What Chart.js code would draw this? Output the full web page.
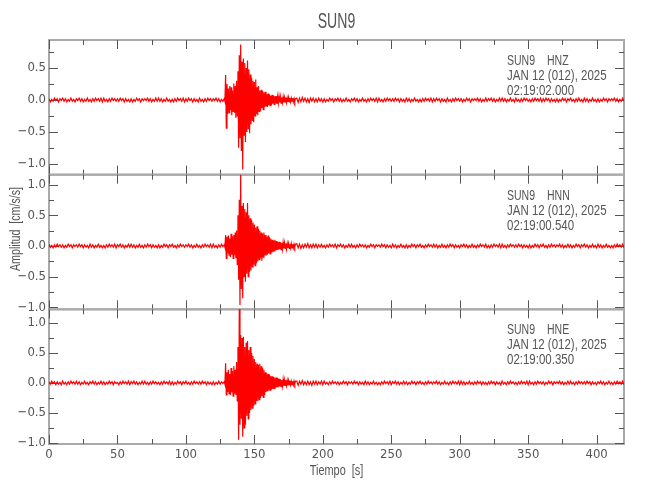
<!DOCTYPE html>
<html>
<head>
<meta charset="utf-8">
<title>SUN9</title>
<script src="https://cdn.jsdelivr.net/npm/chart.js@4.4.1/dist/chart.umd.min.js"></script>
<style>
  html, body { margin: 0; padding: 0; background: #ffffff; }
  #wrap { width: 650px; height: 500px; }
</style>
</head>
<body>
<div id="wrap"><canvas id="myChart" width="650" height="500"></canvas></div>
<script>
// ---- datos ----
const estacion = 'SUN9';
const componentes = ['HNZ', 'HNN', 'HNE'];
const fecha = 'JAN 12 (012), 2025';
const horas = ['02:19:02.000', '02:19:00.540', '02:19:00.350'];
const rangosY = [[-1.17, 0.94], [-1.03, 1.16], [-1.02, 1.23]];
const rangoX = [0, 420];

// tiempo [s]: 1 s antes y despues del evento, 0.5 s durante el evento
const tiempo = [
  0, 1, 2, 3, 4, 5, 6, 7, 8, 9, 10, 11, 12, 13, 14, 15, 16, 17, 18, 19,
  20, 21, 22, 23, 24, 25, 26, 27, 28, 29, 30, 31, 32, 33, 34, 35, 36, 37, 38, 39,
  40, 41, 42, 43, 44, 45, 46, 47, 48, 49, 50, 51, 52, 53, 54, 55, 56, 57, 58, 59,
  60, 61, 62, 63, 64, 65, 66, 67, 68, 69, 70, 71, 72, 73, 74, 75, 76, 77, 78, 79,
  80, 81, 82, 83, 84, 85, 86, 87, 88, 89, 90, 91, 92, 93, 94, 95, 96, 97, 98, 99,
  100, 101, 102, 103, 104, 105, 106, 107, 108, 109, 110, 111, 112, 113, 114, 115, 116, 117, 118, 119,
  120, 121, 122, 123, 124, 125, 126, 127,
  128, 128.5, 129, 129.5, 130, 130.5, 131, 131.5, 132, 132.5,
  133, 133.5, 134, 134.5, 135, 135.5, 136, 136.5, 137, 137.5,
  138, 138.5, 139, 139.5, 140, 140.5, 141, 141.5, 142, 142.5,
  143, 143.5, 144, 144.5, 145, 145.5, 146, 146.5, 147, 147.5,
  148, 148.5, 149, 149.5, 150, 150.5, 151, 151.5, 152, 152.5,
  153, 153.5, 154, 154.5, 155, 155.5, 156, 156.5, 157, 157.5,
  158, 158.5, 159, 159.5, 160, 160.5, 161, 161.5, 162, 162.5,
  163, 163.5, 164, 164.5, 165, 165.5, 166, 166.5, 167, 167.5,
  168, 168.5, 169, 169.5, 170, 170.5, 171, 171.5, 172, 172.5,
  173, 173.5, 174, 174.5, 175, 175.5, 176, 176.5, 177, 177.5,
  178, 178.5, 179, 179.5, 180,
  181, 182, 183, 184, 185, 186, 187, 188, 189, 190, 191, 192, 193, 194, 195, 196, 197, 198, 199, 200,
  201, 202, 203, 204, 205, 206, 207, 208, 209, 210, 211, 212, 213, 214, 215, 216, 217, 218, 219, 220,
  221, 222, 223, 224, 225, 226, 227, 228, 229, 230, 231, 232, 233, 234, 235, 236, 237, 238, 239, 240,
  241, 242, 243, 244, 245, 246, 247, 248, 249, 250, 251, 252, 253, 254, 255, 256, 257, 258, 259, 260,
  261, 262, 263, 264, 265, 266, 267, 268, 269, 270, 271, 272, 273, 274, 275, 276, 277, 278, 279, 280,
  281, 282, 283, 284, 285, 286, 287, 288, 289, 290, 291, 292, 293, 294, 295, 296, 297, 298, 299, 300,
  301, 302, 303, 304, 305, 306, 307, 308, 309, 310, 311, 312, 313, 314, 315, 316, 317, 318, 319, 320,
  321, 322, 323, 324, 325, 326, 327, 328, 329, 330, 331, 332, 333, 334, 335, 336, 337, 338, 339, 340,
  341, 342, 343, 344, 345, 346, 347, 348, 349, 350, 351, 352, 353, 354, 355, 356, 357, 358, 359, 360,
  361, 362, 363, 364, 365, 366, 367, 368, 369, 370, 371, 372, 373, 374, 375, 376, 377, 378, 379, 380,
  381, 382, 383, 384, 385, 386, 387, 388, 389, 390, 391, 392, 393, 394, 395, 396, 397, 398, 399, 400,
  401, 402, 403, 404, 405, 406, 407, 408, 409, 410, 411, 412, 413, 414, 415, 416, 417, 418, 419, 420
];

// amplitud [cm/s/s], componente vertical
const hnz = [
  0.02, -0.03, 0.01, -0.02, 0.03, -0.01, 0.02, -0.03, 0.02, -0.01, 0.03, -0.02, 0.02, -0.03, 0.01, -0.02, 0.03, -0.02, 0.01, -0.03,
  0.02, -0.01, 0.03, -0.02, 0.02, -0.03, 0.01, -0.02, 0.03, -0.02, 0.01, -0.03, 0.02, -0.02, 0.03, -0.01, 0.02, -0.02, 0.03, -0.03,
  0.03, -0.02, 0.01, -0.03, 0.02, -0.02, 0.03, -0.01, 0.02, -0.02, 0.02, -0.02, 0.03, -0.01, 0.02, -0.03, 0.02, -0.02, 0.01, -0.03,
  0.02, -0.03, 0.01, -0.02, 0.03, -0.01, 0.02, -0.03, 0.02, -0.01, 0.02, -0.01, 0.03, -0.02, 0.02, -0.03, 0.01, -0.02, 0.03, -0.02,
  0.03, -0.02, 0.02, -0.03, 0.01, -0.02, 0.03, -0.02, 0.01, -0.03, 0.01, -0.03, 0.02, -0.02, 0.03, -0.01, 0.02, -0.02, 0.03, -0.03,
  0.02, -0.02, 0.03, -0.01, 0.02, -0.03, 0.02, -0.02, 0.01, -0.03, 0.03, -0.02, 0.01, -0.03, 0.02, -0.02, 0.03, -0.01, 0.02, -0.02,
  0.02, -0.01, 0.03, -0.02, 0.02, -0.03, 0.01, -0.02,
  0.02, -0.02, 0.39, -0.44, 0.25, -0.22, 0.18, -0.2, 0.22, -0.16,
  0.2, -0.24, 0.15, -0.18, 0.26, -0.2, 0.22, -0.28, 0.3, -0.25,
  0.45, -0.75, 0.7, -0.6, 0.87, -0.8, 0.6, -1.09, 0.65, -0.55,
  0.58, -0.66, 0.5, -0.5, 0.62, -0.45, 0.48, -0.52, 0.4, -0.38,
  0.35, -0.32, 0.3, -0.35, 0.28, -0.25, 0.32, -0.22, 0.2, -0.24,
  0.22, -0.18, 0.15, -0.17, 0.16, -0.13, 0.14, -0.15, 0.12, -0.11,
  0.13, -0.1, 0.09, -0.11, 0.1, -0.08, 0.09, -0.09, 0.07, -0.08,
  0.08, -0.06, 0.07, -0.07, 0.06, -0.05, 0.06, -0.06, 0.05, -0.05,
  0.06, -0.04, 0.05, -0.05, 0.04, -0.04, 0.05, -0.04, 0.04, -0.03,
  0.04, -0.04, 0.03, -0.03, 0.04, -0.03, 0.03, -0.03, 0.03, -0.02,
  0.03, -0.03, 0.02, -0.03, 0.02,
  0.03, -0.04, 0.03, -0.03, 0.04, -0.02, 0.03, -0.03, 0.02, -0.04, 0.03, -0.02, 0.03, -0.03, 0.02, -0.03, 0.03, -0.02, 0.02, -0.03,
  0.02, -0.03, 0.01, -0.02, 0.03, -0.01, 0.02, -0.03, 0.02, -0.01, 0.03, -0.02, 0.02, -0.03, 0.01, -0.02, 0.03, -0.02, 0.01, -0.03,
  0.02, -0.01, 0.03, -0.02, 0.02, -0.03, 0.01, -0.02, 0.03, -0.02, 0.01, -0.03, 0.02, -0.02, 0.03, -0.01, 0.02, -0.02, 0.03, -0.03,
  0.03, -0.02, 0.01, -0.03, 0.02, -0.02, 0.03, -0.01, 0.02, -0.02, 0.02, -0.02, 0.03, -0.01, 0.02, -0.03, 0.02, -0.02, 0.01, -0.03,
  0.03, -0.02, 0.02, -0.03, 0.01, -0.02, 0.03, -0.02, 0.01, -0.03, 0.01, -0.03, 0.02, -0.02, 0.03, -0.01, 0.02, -0.02, 0.03, -0.03,
  0.02, -0.02, 0.03, -0.01, 0.02, -0.03, 0.02, -0.02, 0.01, -0.03, 0.03, -0.02, 0.01, -0.03, 0.02, -0.02, 0.03, -0.01, 0.02, -0.02,
  0.02, -0.03, 0.01, -0.02, 0.03, -0.01, 0.02, -0.03, 0.02, -0.01, 0.02, -0.01, 0.03, -0.02, 0.02, -0.03, 0.01, -0.02, 0.03, -0.02,
  0.02, -0.01, 0.03, -0.02, 0.02, -0.03, 0.01, -0.02, 0.03, -0.02, 0.03, -0.02, 0.02, -0.03, 0.01, -0.02, 0.03, -0.02, 0.01, -0.03,
  0.03, -0.02, 0.01, -0.03, 0.02, -0.02, 0.03, -0.01, 0.02, -0.02, 0.01, -0.03, 0.02, -0.02, 0.03, -0.01, 0.02, -0.02, 0.03, -0.03,
  0.02, -0.02, 0.03, -0.01, 0.02, -0.03, 0.02, -0.02, 0.01, -0.03, 0.02, -0.03, 0.01, -0.02, 0.03, -0.01, 0.02, -0.03, 0.02, -0.01,
  0.03, -0.02, 0.01, -0.03, 0.02, -0.02, 0.03, -0.02, 0.01, -0.03, 0.03, -0.02, 0.02, -0.03, 0.01, -0.02, 0.03, -0.02, 0.01, -0.03,
  0.02, -0.03, 0.01, -0.02, 0.03, -0.01, 0.02, -0.03, 0.02, -0.01, 0.02, -0.01, 0.03, -0.02, 0.02, -0.03, 0.01, -0.02, 0.03, -0.02
];

// componente norte
const hnn = [
  0.03, -0.02, 0.01, -0.03, 0.02, -0.02, 0.03, -0.01, 0.02, -0.02, 0.02, -0.03, 0.01, -0.02, 0.03, -0.01, 0.02, -0.03, 0.02, -0.01,
  0.02, -0.02, 0.03, -0.01, 0.02, -0.03, 0.02, -0.02, 0.01, -0.03, 0.03, -0.02, 0.02, -0.03, 0.01, -0.02, 0.03, -0.02, 0.01, -0.03,
  0.01, -0.03, 0.02, -0.02, 0.03, -0.01, 0.02, -0.02, 0.03, -0.03, 0.02, -0.01, 0.03, -0.02, 0.02, -0.03, 0.01, -0.02, 0.03, -0.02,
  0.03, -0.02, 0.02, -0.03, 0.01, -0.02, 0.03, -0.02, 0.01, -0.03, 0.02, -0.02, 0.03, -0.01, 0.02, -0.03, 0.02, -0.02, 0.01, -0.03,
  0.02, -0.03, 0.01, -0.02, 0.03, -0.01, 0.02, -0.03, 0.02, -0.01, 0.03, -0.02, 0.01, -0.03, 0.02, -0.02, 0.03, -0.01, 0.02, -0.02,
  0.02, -0.01, 0.03, -0.02, 0.02, -0.03, 0.01, -0.02, 0.03, -0.02, 0.01, -0.03, 0.02, -0.02, 0.03, -0.01, 0.02, -0.02, 0.03, -0.03,
  0.03, -0.02, 0.01, -0.03, 0.02, -0.02, 0.03, -0.01,
  0.02, -0.02, 0.18, -0.2, 0.15, -0.12, 0.17, -0.15, 0.12, -0.18,
  0.2, -0.14, 0.16, -0.2, 0.18, -0.15, 0.22, -0.2, 0.25, -0.3,
  0.5, -0.55, 0.75, -0.96, 1.22, -0.7, 0.65, -0.85, 0.7, -0.5,
  0.6, -0.58, 0.55, -0.45, 0.7, -0.5, 0.5, -0.42, 0.45, -0.4,
  0.42, -0.34, 0.38, -0.3, 0.35, -0.32, 0.3, -0.28, 0.32, -0.25,
  0.28, -0.22, 0.25, -0.2, 0.22, -0.24, 0.2, -0.18, 0.22, -0.15,
  0.18, -0.16, 0.15, -0.14, 0.17, -0.12, 0.14, -0.13, 0.12, -0.11,
  0.1, -0.1, 0.09, -0.08, 0.1, -0.07, 0.08, -0.07, 0.07, -0.06,
  0.07, -0.05, 0.06, -0.06, 0.05, -0.05, 0.06, -0.04, 0.05, -0.04,
  0.04, -0.05, 0.04, -0.03, 0.04, -0.04, 0.03, -0.03, 0.04, -0.03,
  0.03, -0.03, 0.03, -0.02, 0.03,
  0.04, -0.03, 0.03, -0.04, 0.02, -0.03, 0.03, -0.02, 0.04, -0.03, 0.02, -0.03, 0.03, -0.02, 0.03, -0.03, 0.02, -0.02, 0.03, -0.02,
  0.01, -0.03, 0.02, -0.02, 0.03, -0.01, 0.02, -0.02, 0.03, -0.03, 0.02, -0.01, 0.03, -0.02, 0.02, -0.03, 0.01, -0.02, 0.03, -0.02,
  0.03, -0.02, 0.01, -0.03, 0.02, -0.02, 0.03, -0.01, 0.02, -0.02, 0.02, -0.03, 0.01, -0.02, 0.03, -0.01, 0.02, -0.03, 0.02, -0.01,
  0.02, -0.02, 0.03, -0.01, 0.02, -0.03, 0.02, -0.02, 0.01, -0.03, 0.03, -0.02, 0.02, -0.03, 0.01, -0.02, 0.03, -0.02, 0.01, -0.03,
  0.02, -0.03, 0.01, -0.02, 0.03, -0.01, 0.02, -0.03, 0.02, -0.01, 0.03, -0.02, 0.01, -0.03, 0.02, -0.02, 0.03, -0.01, 0.02, -0.02,
  0.03, -0.02, 0.02, -0.03, 0.01, -0.02, 0.03, -0.02, 0.01, -0.03, 0.02, -0.02, 0.03, -0.01, 0.02, -0.03, 0.02, -0.02, 0.01, -0.03,
  0.02, -0.01, 0.03, -0.02, 0.02, -0.03, 0.01, -0.02, 0.03, -0.02, 0.01, -0.03, 0.02, -0.02, 0.03, -0.01, 0.02, -0.02, 0.03, -0.03,
  0.01, -0.03, 0.02, -0.02, 0.03, -0.01, 0.02, -0.02, 0.03, -0.03, 0.03, -0.02, 0.01, -0.03, 0.02, -0.02, 0.03, -0.01, 0.02, -0.02,
  0.02, -0.02, 0.03, -0.01, 0.02, -0.03, 0.02, -0.02, 0.01, -0.03, 0.02, -0.03, 0.01, -0.02, 0.03, -0.01, 0.02, -0.03, 0.02, -0.01,
  0.03, -0.02, 0.01, -0.03, 0.02, -0.02, 0.03, -0.01, 0.02, -0.02, 0.02, -0.01, 0.03, -0.02, 0.02, -0.03, 0.01, -0.02, 0.03, -0.02,
  0.02, -0.03, 0.01, -0.02, 0.03, -0.01, 0.02, -0.03, 0.02, -0.01, 0.03, -0.02, 0.02, -0.03, 0.01, -0.02, 0.03, -0.02, 0.01, -0.03,
  0.03, -0.02, 0.02, -0.03, 0.01, -0.02, 0.03, -0.02, 0.01, -0.03, 0.01, -0.03, 0.02, -0.02, 0.03, -0.01, 0.02, -0.02, 0.03, -0.03
];

// componente este
const hne = [
  0.02, -0.02, 0.03, -0.01, 0.02, -0.03, 0.02, -0.02, 0.01, -0.03, 0.03, -0.02, 0.01, -0.03, 0.02, -0.02, 0.03, -0.01, 0.02, -0.02,
  0.03, -0.02, 0.02, -0.03, 0.01, -0.02, 0.03, -0.02, 0.01, -0.03, 0.02, -0.01, 0.03, -0.02, 0.02, -0.03, 0.01, -0.02, 0.03, -0.02,
  0.02, -0.03, 0.01, -0.02, 0.03, -0.01, 0.02, -0.03, 0.02, -0.01, 0.01, -0.03, 0.02, -0.02, 0.03, -0.01, 0.02, -0.02, 0.03, -0.03,
  0.02, -0.01, 0.03, -0.02, 0.02, -0.03, 0.01, -0.02, 0.03, -0.02, 0.03, -0.02, 0.01, -0.03, 0.02, -0.02, 0.03, -0.01, 0.02, -0.02,
  0.01, -0.03, 0.02, -0.02, 0.03, -0.01, 0.02, -0.02, 0.03, -0.03, 0.02, -0.03, 0.01, -0.02, 0.03, -0.01, 0.02, -0.03, 0.02, -0.01,
  0.03, -0.02, 0.01, -0.03, 0.02, -0.02, 0.03, -0.01, 0.02, -0.02, 0.02, -0.02, 0.03, -0.01, 0.02, -0.03, 0.02, -0.02, 0.01, -0.03,
  0.02, -0.03, 0.01, -0.02, 0.03, -0.02, 0.02, -0.01,
  0.02, -0.02, 0.33, -0.2, 0.18, -0.15, 0.22, -0.18, 0.15, -0.2,
  0.25, -0.16, 0.2, -0.22, 0.28, -0.18, 0.22, -0.2, 0.35, -0.3,
  0.6, -0.95, 1.28, -0.7, 0.8, -0.6, 0.75, -0.9, 0.77, -0.75,
  0.6, -0.7, 0.67, -0.55, 0.7, -0.6, 0.55, -0.5, 0.6, -0.45,
  0.5, -0.42, 0.45, -0.38, 0.4, -0.35, 0.35, -0.3, 0.32, -0.3,
  0.3, -0.28, 0.32, -0.25, 0.28, -0.22, 0.25, -0.24, 0.22, -0.2,
  0.18, -0.15, 0.16, -0.14, 0.15, -0.13, 0.14, -0.12, 0.12, -0.11,
  0.11, -0.1, 0.1, -0.09, 0.09, -0.08, 0.09, -0.07, 0.08, -0.07,
  0.07, -0.06, 0.06, -0.06, 0.05, -0.05, 0.06, -0.05, 0.05, -0.04,
  0.05, -0.04, 0.04, -0.04, 0.04, -0.03, 0.04, -0.03, 0.03, -0.03,
  0.03, -0.03, 0.03, -0.02, 0.03,
  0.03, -0.04, 0.03, -0.02, 0.04, -0.03, 0.02, -0.03, 0.03, -0.03, 0.02, -0.04, 0.03, -0.02, 0.03, -0.03, 0.02, -0.02, 0.03, -0.03,
  0.03, -0.02, 0.01, -0.03, 0.02, -0.02, 0.03, -0.01, 0.02, -0.02, 0.02, -0.03, 0.01, -0.02, 0.03, -0.01, 0.02, -0.03, 0.02, -0.01,
  0.02, -0.02, 0.03, -0.01, 0.02, -0.03, 0.02, -0.02, 0.01, -0.03, 0.03, -0.02, 0.02, -0.03, 0.01, -0.02, 0.03, -0.02, 0.01, -0.03,
  0.01, -0.03, 0.02, -0.02, 0.03, -0.01, 0.02, -0.02, 0.03, -0.03, 0.02, -0.01, 0.03, -0.02, 0.02, -0.03, 0.01, -0.02, 0.03, -0.02,
  0.02, -0.03, 0.01, -0.02, 0.03, -0.01, 0.02, -0.03, 0.02, -0.01, 0.03, -0.02, 0.01, -0.03, 0.02, -0.02, 0.03, -0.01, 0.02, -0.02,
  0.02, -0.01, 0.03, -0.02, 0.02, -0.03, 0.01, -0.02, 0.03, -0.02, 0.01, -0.03, 0.02, -0.02, 0.03, -0.01, 0.02, -0.02, 0.03, -0.03,
  0.03, -0.02, 0.02, -0.03, 0.01, -0.02, 0.03, -0.02, 0.01, -0.03, 0.02, -0.02, 0.03, -0.01, 0.02, -0.03, 0.02, -0.02, 0.01, -0.03,
  0.02, -0.02, 0.03, -0.01, 0.02, -0.03, 0.02, -0.02, 0.01, -0.03, 0.03, -0.02, 0.01, -0.03, 0.02, -0.02, 0.03, -0.01, 0.02, -0.02,
  0.01, -0.03, 0.02, -0.02, 0.03, -0.01, 0.02, -0.02, 0.03, -0.03, 0.03, -0.02, 0.01, -0.03, 0.02, -0.02, 0.03, -0.01, 0.02, -0.02,
  0.02, -0.03, 0.01, -0.02, 0.03, -0.01, 0.02, -0.03, 0.02, -0.01, 0.02, -0.01, 0.03, -0.02, 0.02, -0.03, 0.01, -0.02, 0.03, -0.02,
  0.03, -0.02, 0.01, -0.03, 0.02, -0.02, 0.03, -0.01, 0.02, -0.02, 0.02, -0.02, 0.03, -0.01, 0.02, -0.03, 0.02, -0.02, 0.01, -0.03,
  0.02, -0.01, 0.03, -0.02, 0.02, -0.03, 0.01, -0.02, 0.03, -0.02, 0.01, -0.03, 0.02, -0.02, 0.03, -0.01, 0.02, -0.02, 0.03, -0.03
];

const trazas = [hnz, hnn, hne];
const ejesY = ['y1', 'y2', 'y3'];

// ---- estilo ----
const FUENTE = "'Liberation Sans', Arial, sans-serif";
const FUENTE_TICKS = "'DejaVu Sans Condensed', 'Liberation Sans', sans-serif";
const GRIS_TEXTO = '#555555';
const GRIS_MARCO = '#a9a9a9';
const ROJO = '#ff0000';

// texto estrecho al estilo de la fuente de IDL
function textoAngosto(ctx, texto, x, y, escala) {
    ctx.save();
    ctx.translate(x, y);
    ctx.scale(escala, 1);
    ctx.fillText(texto, 0, 0);
    ctx.restore();
}

const marcoPlugin = {
    id: 'marco',
    beforeDatasetsDraw(chart) {
        const ctx = chart.ctx;
        const xs = chart.scales.x;
        const left = chart.chartArea.left, right = chart.chartArea.right;
        ctx.save();
        ejesY.forEach((id) => {
            const ys = chart.scales[id];
            const top = ys.top, bottom = ys.bottom;
            ctx.strokeStyle = GRIS_MARCO;
            ctx.lineWidth = 2;
            ctx.strokeRect(left, top, right - left, bottom - top);

            ctx.strokeStyle = GRIS_TEXTO;
            ctx.lineWidth = 1;
            ctx.beginPath();
            // ticks del eje x, hacia adentro
            for (let v = rangoX[0]; v <= rangoX[1]; v += 25) {
                const px = Math.round(xs.getPixelForValue(v)) + 0.5;
                const len = v % 50 === 0 ? 9 : 5;
                ctx.moveTo(px, top); ctx.lineTo(px, top + len);
                ctx.moveTo(px, bottom); ctx.lineTo(px, bottom - len);
            }
            // ticks del eje y
            for (let v = Math.ceil(ys.min / 0.25) * 0.25; v <= ys.max + 1e-9; v += 0.25) {
                const py = Math.round(ys.getPixelForValue(v)) + 0.5;
                const mayor = Math.abs(v * 2 - Math.round(v * 2)) < 1e-6;
                const len = mayor ? 9 : 5;
                ctx.moveTo(left, py); ctx.lineTo(left + len, py);
                ctx.moveTo(right, py); ctx.lineTo(right - len, py);
            }
            ctx.stroke();
        });
        ctx.restore();
    },
    afterDatasetsDraw(chart) {
        const ctx = chart.ctx;
        const {left, right} = chart.chartArea;
        ctx.save();
        ctx.fillStyle = GRIS_TEXTO;
        ctx.textBaseline = 'middle';

        // titulo
        ctx.font = '22px ' + FUENTE;
        ctx.textAlign = 'center';
        textoAngosto(ctx, estacion, (left + right) / 2, 22, 0.64);

        // anotaciones de cada componente
        ctx.font = '14px ' + FUENTE;
        ctx.textAlign = 'left';
        ejesY.forEach((id, k) => {
            const ys = chart.scales[id];
            textoAngosto(ctx, estacion, 507, ys.top + 21, 0.75);
            textoAngosto(ctx, componentes[k], 547, ys.top + 21, 0.75);
            textoAngosto(ctx, fecha, 507, ys.top + 36, 0.82);
            textoAngosto(ctx, horas[k], 507, ys.top + 51, 0.82);
        });

        // titulo eje y
        ctx.font = '14px ' + FUENTE;
        ctx.save();
        ctx.translate(16, 229);
        ctx.rotate(-Math.PI / 2);
        ctx.textAlign = 'center';
        textoAngosto(ctx, 'Amplitud  [cm/s/s]', 0, 0, 0.76);
        ctx.restore();

        // titulo eje x
        ctx.textAlign = 'center';
        textoAngosto(ctx, 'Tiempo  [s]', (left + right) / 2, 471, 0.78);
        ctx.restore();
    }
};

const escalaY = (k) => ({
    type: 'linear',
    position: 'left',
    stack: 'sismo',
    stackWeight: 1,
    weight: 3 - k,
    min: rangosY[k][0],
    max: rangosY[k][1],
    grid: { display: false, drawTicks: false },
    border: { display: false },
    ticks: {
        stepSize: 0.5,
        includeBounds: false,
        color: GRIS_TEXTO,
        font: { family: FUENTE_TICKS, size: 13 },
        padding: 3,
        callback: (v) => (v < 0 ? '\u2212' : '') + Math.abs(v).toFixed(1)
    },
    afterFit: (s) => { s.width = 49; }
});

const datasets = trazas.map((serie, k) => ({
    label: componentes[k],
    data: tiempo.map((t, i) => ({ x: t, y: serie[i] })),
    yAxisID: ejesY[k],
    xAxisID: 'x',
    borderColor: ROJO,
    borderWidth: 1.2,
    pointRadius: 0,
    tension: 0,
    fill: false
}));

const config = {
    type: 'line',
    data: { datasets: datasets },
    options: {
        responsive: false,
        animation: false,
        devicePixelRatio: 1,
        layout: { padding: { left: 0, right: 26, top: 40, bottom: 0 } },
        plugins: { legend: { display: false }, title: { display: false }, tooltip: { enabled: false } },
        scales: {
            x: {
                type: 'linear',
                min: rangoX[0],
                max: rangoX[1],
                grid: { display: false, drawTicks: false },
                border: { display: false },
                ticks: {
                    stepSize: 50,
                    includeBounds: false,
                    maxRotation: 0,
                    color: GRIS_TEXTO,
                    font: { family: FUENTE_TICKS, size: 13 },
                    padding: 3
                },
                afterFit: (s) => { s.height = 56; }
            },
            y1: escalaY(0),
            y2: escalaY(1),
            y3: escalaY(2)
        }
    },
    plugins: [marcoPlugin]
};

const myChart = new Chart(document.getElementById('myChart'), config);
</script>
</body>
</html>
